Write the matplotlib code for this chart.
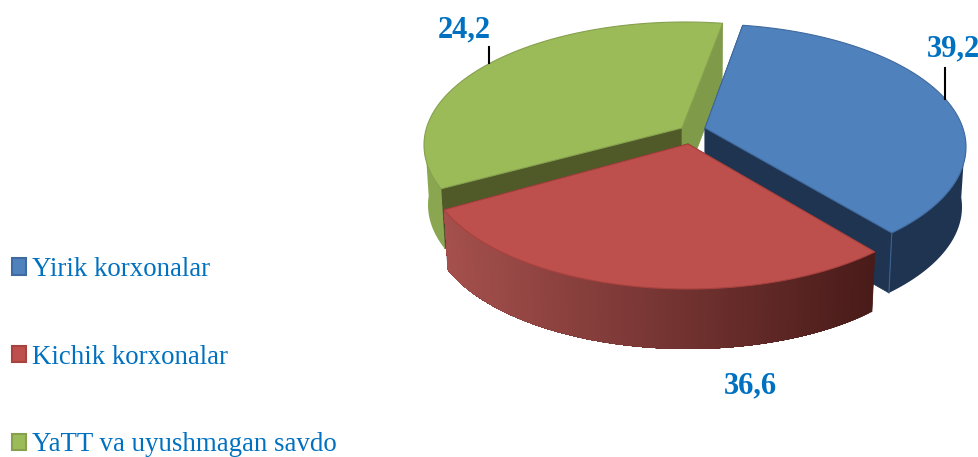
import numpy as np
import matplotlib
matplotlib.use("Agg")
import matplotlib.pyplot as plt
from matplotlib.colors import to_rgb
from matplotlib.patches import Patch, Polygon

plt.rcParams['font.family'] = ['Liberation Serif', 'DejaVu Serif']

categories = ["Yirik korxonalar", "Kichik korxonalar", "YaTT va uyushmagan savdo"]
# printed labels
value_labels = ["39,2", "36,6", "24,2"]
# share of the circle each slice really takes in the picture (it differs from the labels)
slice_shares = [35.0, 31.9, 33.1]
start_angle = 8.3

top_colors = ['#4f81bd', '#bd4f4c', '#9bbb59']
cut_colors = ['#1f3450', '#4a1c1a', '#4f5a28']
side_colors = [('#1f3450', '#1f3450'), ('#a5504d', '#491b19'), ('#8aa650', '#86a04e')]
edge_colors = ['#3f6a9f', '#a8423f', '#86a04e']

# pixel layout of each exploded slice: ellipse centre and apex
centres = [(705, 147), (688, 166), (685, 145)]
apexes = [(705, 128), (688, 144), (682, 128)]
rx, ry = 261, 123
rx_low = 257
depth = 60

fig = plt.figure(figsize=(9.79, 4.57), dpi=100)
ax = fig.add_axes([0, 0, 1, 1])
ax.set_xlim(0, 979)
ax.set_ylim(457, 0)
ax.axis('off')


def rim(i, t, low=False):
    cx, cy = centres[i]
    if low:
        return cx + rx_low * np.sin(t), cy + depth - ry * np.cos(t)
    return cx + rx * np.sin(t), cy - ry * np.cos(t)


edges = start_angle + np.cumsum([0] + slice_shares) * 3.6
spans = [(edges[i], edges[i + 1]) for i in range(3)]

# draw green first, then blue, red goes on top
for i in [2, 0, 1]:
    t0, t1 = np.radians(spans[i])
    ax_, ay_ = apexes[i]
    tt = np.linspace(t0, t1, 120)

    # cut faces
    for t in (t0, t1):
        x, y = rim(i, t)
        xl, yl = rim(i, t, low=True)
        c = cut_colors[i]
        if i == 2 and t == t1:
            c = '#7f9a48'
        ax.add_patch(Polygon([(ax_, ay_), (x, y), (xl, yl), (ax_, ay_ + depth)],
                             fc=c, ec=c, lw=0.5))

    # outer side, only the part facing us
    vis = tt
    if i == 0:
        vis = tt[np.degrees(tt) > 85]
    if i == 2:
        vis = tt[np.degrees(tt) < 275]
    c0, c1 = map(np.array, map(to_rgb, side_colors[i]))
    # each strip runs to the far end and is painted over by the next, so no seams
    steps = len(vis) - 1 if i == 1 else 1
    for k in range(steps):
        f = (rim(i, vis[k])[0] - 445) / 430
        f = min(max(f, 0), 1)
        col = c0 + (c1 - c0) * f
        rest = vis[k:] if i == 1 else vis
        up = list(zip(*rim(i, rest)))
        dn = list(zip(*rim(i, rest, low=True)))[::-1]
        ax.add_patch(Polygon(up + dn, fc=col, ec='none'))

    # top
    xs, ys = rim(i, tt)
    pts = [(ax_, ay_)] + list(zip(xs, ys))
    ax.add_patch(Polygon(pts, fc=top_colors[i], ec=edge_colors[i], lw=0.8, zorder=3))

    if i == 0:
        x, y = rim(i, t1)
        xl, yl = rim(i, t1, low=True)
        ax.plot([x, xl], [y, yl], color='#3a6394', lw=0.8, zorder=3)

# leader lines and value labels
ax.plot([489, 489], [47, 63], color='black', lw=1.5, zorder=4)
ax.plot([945, 945], [68, 99], color='black', lw=1.5, zorder=4)
label_pos = [(953, 49), (750, 385.5), (464, 30)]
for lab, (x, y) in zip(value_labels, label_pos):
    ax.text(x, y, lab, color='#0070c0', fontsize=22, fontweight='bold',
            ha='center', va='center', zorder=5)

handles = [Patch(fc=top_colors[i], ec=edge_colors[i], lw=1.5) for i in range(3)]
ax.legend(handles, categories, loc='lower left', bbox_to_anchor=(0.001, -0.0245),
          frameon=False, fontsize=19.4, labelcolor='#0070c0', handlelength=0.53,
          handleheight=0.56, handletextpad=0.22, labelspacing=2.33,
          borderpad=0.4, borderaxespad=0)

fig.savefig('out.png', dpi=100)
